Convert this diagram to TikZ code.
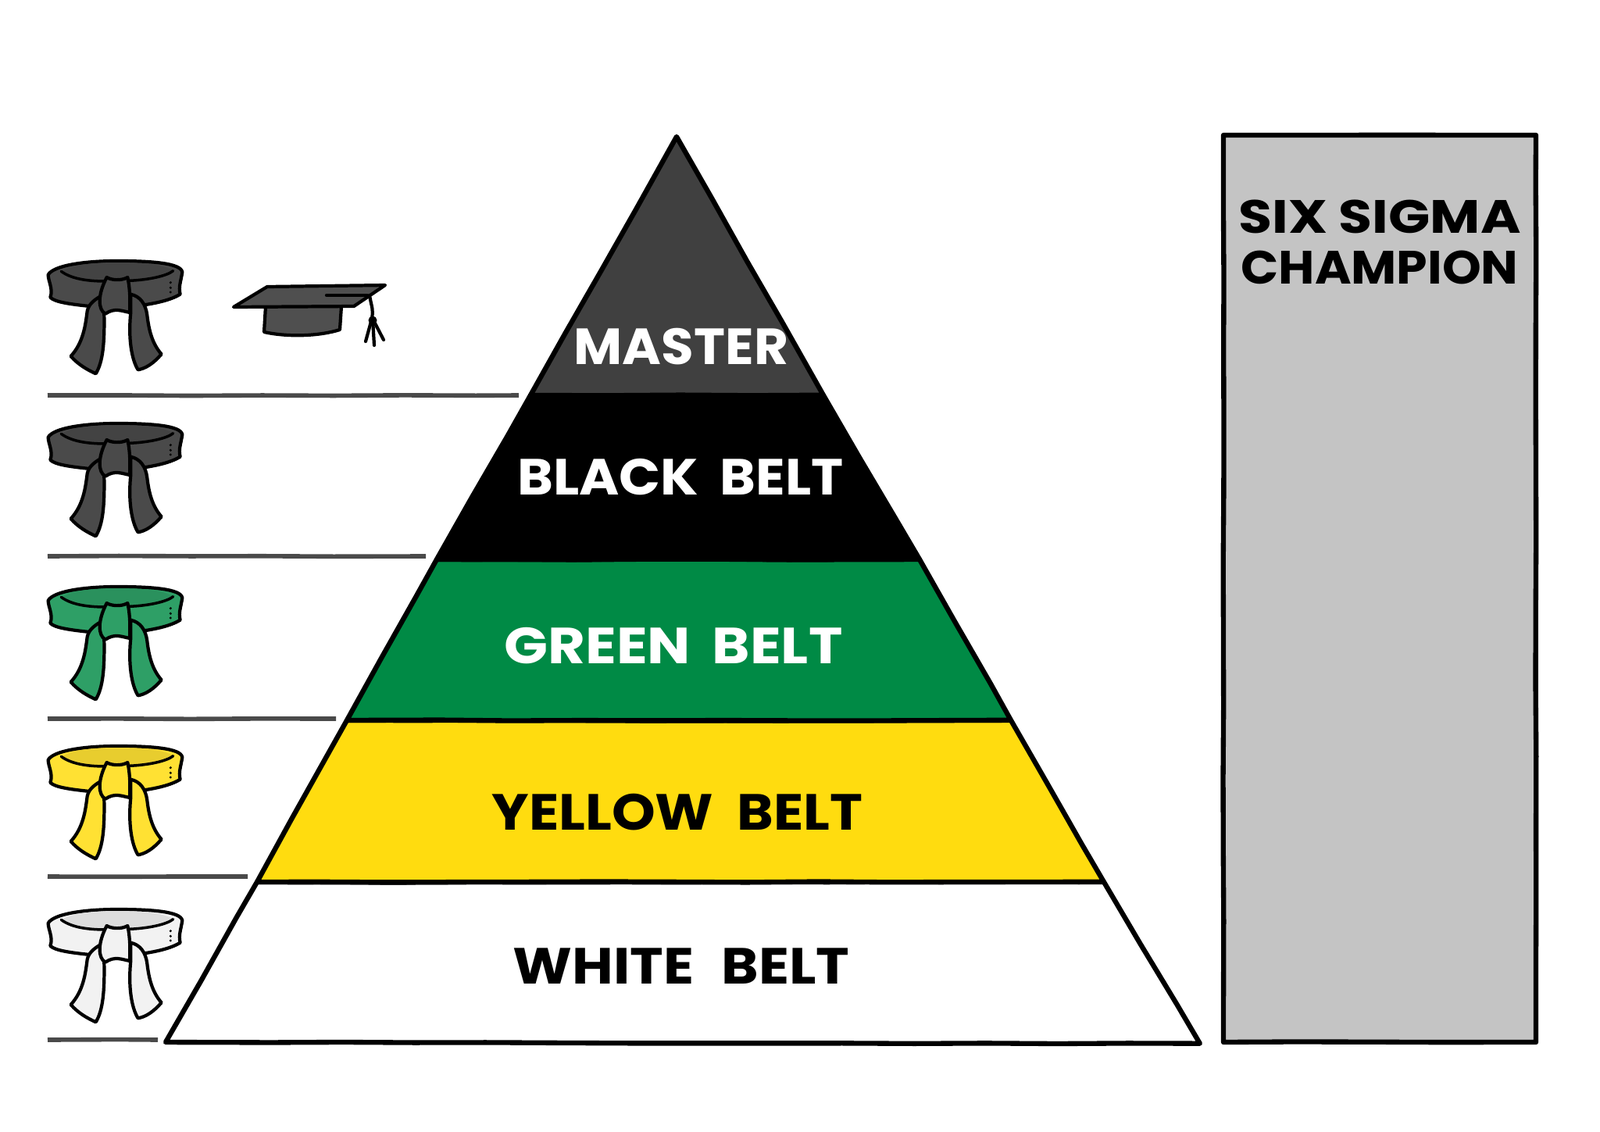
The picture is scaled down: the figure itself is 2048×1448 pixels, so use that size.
\documentclass[tikz,border=0pt]{standalone}
\usepackage{fontspec}
\usetikzlibrary{decorations.pathmorphing}
\setmainfont{Poppins}
\definecolor{mastergray}{HTML}{404040}
\definecolor{beltgreen}{HTML}{008A45}
\definecolor{beltyellow}{HTML}{FFDC0F}
\definecolor{championgray}{HTML}{C4C4C4}
\definecolor{rulegray}{HTML}{4A4A4A}
\tikzset{
  inkline/.style={line width=1.2pt,line join=round,line cap=round},
  rimline/.style={line width=1pt,line join=round,line cap=round},
  wobble/.style={decorate,decoration={random steps,segment length=26pt,amplitude=.15pt}},
  tier/.style={line width=1.8pt,line join=round,draw=black,wobble},
  tierlabel/.style={font=\bfseries\fontsize{18.5}{18.5}\selectfont,inner sep=0pt,transform shape},
  boxlabel/.style={font=\bfseries\fontsize{17}{17}\selectfont,inner sep=0pt,transform shape},
  rulestroke/.style={draw=rulegray,line width=1.6pt,wobble},
  beltpic/.pic={
    \draw[inkline,fill=#1] (65,125) .. controls (85,90) and (200,72) .. (330,72)
      .. controls (460,72) and (575,80) .. (580,115) .. controls (575,150) and (565,170) .. (572,200)
      .. controls (540,220) and (490,232) .. (440,240) -- (215,245)
      .. controls (150,238) and (90,230) .. (73,212) .. controls (85,180) and (65,150) .. (65,125) -- cycle;
    \fill[#1!91!black] (115,112) .. controls (170,82) and (260,78) .. (330,78)
      .. controls (420,78) and (510,85) .. (545,110) .. controls (520,130) and (450,145) .. (375,148)
      -- (290,150) .. controls (230,150) and (160,145) .. (115,112) -- cycle;
    \draw[rimline] (115,112) .. controls (160,145) and (230,150) .. (290,150);
    \draw[rimline] (375,148) .. controls (450,145) and (520,130) .. (545,110);
    \draw[inkline,fill=#1] (262,210) .. controls (238,225) and (220,240) .. (215,265)
      .. controls (208,320) and (200,385) .. (152,438) .. controls (180,470) and (215,490) .. (248,505)
      .. controls (275,460) and (282,390) .. (280,275) -- cycle;
    \draw[inkline,fill=#1] (382,200) .. controls (420,208) and (440,240) .. (445,280)
      .. controls (452,340) and (465,390) .. (500,430) .. controls (470,465) and (440,485) .. (410,490)
      .. controls (385,450) and (372,370) .. (382,270) -- cycle;
    \draw[inkline,fill=#1] (290,135) .. controls (305,145) and (345,150) .. (370,135)
      .. controls (380,180) and (380,230) .. (378,270) .. controls (350,265) and (320,250) .. (285,275)
      .. controls (255,260) and (255,200) .. (290,135) -- cycle;
    \fill (535,155) circle (5) (535,175) circle (5) (535,192) circle (5);
  }
}
\begin{document}
\begin{tikzpicture}[x=0.01cm,y=-0.01cm]
\useasboundingbox (0,0) rectangle (2048,1448);
% pyramid tiers
\draw[tier,fill=white] (329,1129) -- (1413,1129) -- (1536,1336) -- (212,1334) -- cycle;
\draw[tier,fill=beltyellow] (444,922) -- (1294,922) -- (1413,1129) -- (329,1129) -- cycle;
\draw[tier,fill=beltgreen] (559,716) -- (1177,716) -- (1294,922) -- (444,922) -- cycle;
\draw[tier,fill=black] (679,506) -- (1054,506) -- (1177,716) -- (559,716) -- cycle;
\draw[tier,fill=mastergray] (866,175) -- (1054,506) -- (679,506) -- cycle;
\node[tierlabel,text=white,xscale=1.04] (master) at (872,444) {MASTER};
\node[tierlabel,text=white,xscale=1.07] (blackbelt) at (871,611) {BLACK\hspace{3.5pt} BELT};
\node[tierlabel,text=white,xscale=1.13] (greenbelt) at (862,827) {GREEN\hspace{3pt} BELT};
\node[tierlabel,xscale=1.09] (yellowbelt) at (867,1040) {YELLOW\hspace{4pt} BELT};
\node[tierlabel,xscale=1.11] (whitebelt) at (872,1237) {WHITE\hspace{5pt} BELT};
% champion
\draw[tier,fill=championgray] (1566,173) rectangle (1966,1334);
\node[boxlabel,xscale=1.17] (sixsigma) at (1766,277) {SIX SIGMA};
\node[boxlabel,xscale=1.06] (champion) at (1766,342) {CHAMPION};
% rules on the left
\draw[rulestroke] (61,506) -- (664,506);
\draw[rulestroke] (61,712) -- (545,712);
\draw[rulestroke] (61,920) -- (430,920);
\draw[rulestroke] (61,1122) -- (317,1122);
\draw[rulestroke] (61,1331) -- (202,1331);
% belts
\pic[scale=.3333] at (40,310) {beltpic=mastergray!95!white};
\pic[scale=.3333] at (40,518) {beltpic=mastergray!95!white};
\pic[scale=.3333] at (40,727) {beltpic=beltgreen!82!white};
\pic[scale=.3333] at (40,931) {beltpic=beltyellow!85!white};
\pic[scale=.3333] at (40,1140) {beltpic=white!95!black};
% hat
\draw[inkline,fill=mastergray!92!white] (340,392) -- (338,425) .. controls (370,432) and (410,430) .. (435,422) -- (437,392) -- cycle;
\draw[inkline,fill=mastergray!92!white] (299,393) -- (342,367) -- (493,365) -- (453,392) -- cycle;
\draw[inkline] (418,378) -- (470,378);
\draw[inkline] (473,378) .. controls (476,395) and (478,395) .. (476,408) -- (468,437);
\draw[inkline] (477,408) -- (479,442);
\draw[inkline] (477,408) -- (491,435);
\fill (477,410) circle (5.5);
\end{tikzpicture}
\end{document}
